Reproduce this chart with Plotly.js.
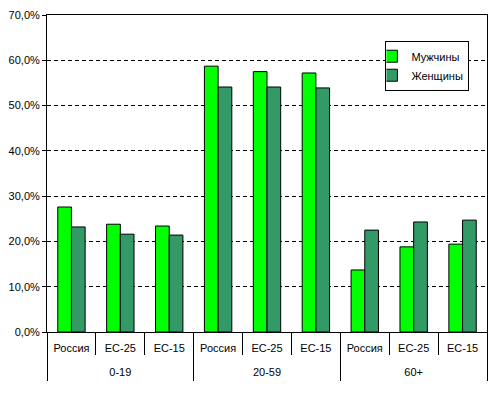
<!DOCTYPE html>
<html><head><meta charset="utf-8">
<script src="https://cdn.plot.ly/plotly-3.0.1.min.js"></script>
<style>html,body{margin:0;padding:0;background:#fff}</style>
</head><body><div id="chart" style="width:492px;height:398px"></div>
<script>
const groups = ["0-19","0-19","0-19","20-59","20-59","20-59","60+","60+","60+"];
const regions = ["Россия","ЕС-25","ЕС-15","Россия","ЕС-25","ЕС-15","Россия","ЕС-25","ЕС-15"];
const men = [27.6, 23.8, 23.4, 58.7, 57.5, 57.2, 13.7, 18.8, 19.4];
const women = [23.2, 21.6, 21.4, 54.1, 54.1, 53.9, 22.5, 24.3, 24.7];
const yTicks = [0,10,20,30,40,50,60,70];
const yTickText = ["0,0%","10,0%","20,0%","30,0%","40,0%","50,0%","60,0%","70,0%"];

const idx = regions.map((_, i) => i);
const groupNames = [...new Set(groups)];
const groupCenters = groupNames.map(g => {
  const ii = idx.filter(i => groups[i] === g);
  return (ii[0] + ii[ii.length - 1]) / 2;
});
const groupBounds = [-0.5].concat(groupNames.map(g => {
  const ii = idx.filter(i => groups[i] === g);
  return ii[ii.length - 1] + 0.5;
}));
const xr = [-0.5, regions.length - 0.5];

const traces = [
  {type:'bar', name:'Мужчины', x:idx, y:men,
   marker:{color:'#00FF00', line:{color:'#000', width:1}}},
  {type:'bar', name:'Женщины', x:idx, y:women,
   marker:{color:'#339966', line:{color:'#000', width:1}}},
  {type:'scatter', x:groupCenters, y:groupCenters.map(()=>0), xaxis:'x2', mode:'none',
   showlegend:false, hoverinfo:'skip'}
];
const layout = {
  width:492, height:398,
  margin:{l:47, r:5, t:15, b:66},
  paper_bgcolor:'#fff', plot_bgcolor:'#fff',
  font:{family:'Arial, "Liberation Sans", sans-serif', size:11, color:'#000'},
  barmode:'group', bargap:0.44, bargroupgap:0,
  showlegend:true,
  legend:{x:0.96, y:0.84, xanchor:'right', yanchor:'middle', bgcolor:'#fff',
    bordercolor:'#000', borderwidth:1, font:{size:11}, tracegroupgap:0,
    itemwidth:30, indentation:-15},
  xaxis:{type:'linear', range:xr, tickvals:idx, ticktext:regions,
    showline:true, linecolor:'#000', linewidth:1, mirror:true,
    ticks:'outside', ticklen:6, tickcolor:'rgba(0,0,0,0)',
    minor:{tickvals:idx.map(i=>i-0.5).concat([regions.length-0.5]), ticks:'outside', ticklen:22, tickcolor:'#000', showgrid:false},
    tickfont:{size:11}, showgrid:false, zeroline:false, fixedrange:true},
  xaxis2:{type:'linear', range:xr, overlaying:'x', anchor:'y', side:'bottom',
    tickvals:groupCenters, ticktext:groupNames, showline:false,
    ticks:'outside', ticklen:30, tickcolor:'rgba(0,0,0,0)',
    minor:{tickvals:groupBounds, ticks:'outside', ticklen:48, tickcolor:'#000', showgrid:false},
    tickfont:{size:11}, showgrid:false, zeroline:false},
  yaxis:{range:[0,70], tickvals:yTicks, ticktext:yTickText,
    showline:true, linecolor:'#000', linewidth:1, mirror:true,
    ticks:'outside', ticklen:4, tickcolor:'#000',
    showgrid:true, gridcolor:'#000', griddash:'4px,3px', gridwidth:1, zeroline:false,
    tickfont:{size:11}}
};
Plotly.newPlot('chart', traces, layout, {displayModeBar:false, staticPlot:true});
</script></body></html>
